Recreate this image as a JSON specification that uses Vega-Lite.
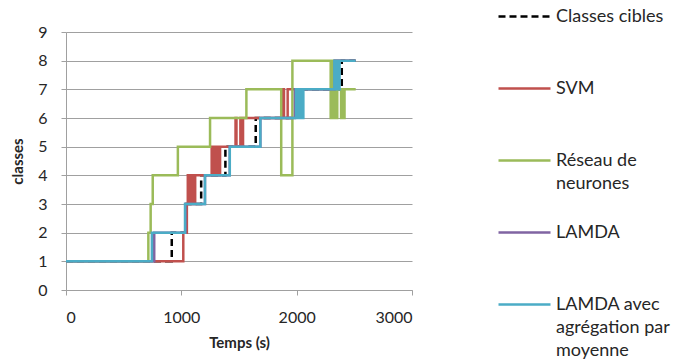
{
  "$schema": "https://vega.github.io/schema/vega-lite/v6.json",
  "width": 346,
  "height": 258,
  "autosize": {"type": "none"},
  "padding": {"left": 66, "top": 32, "right": 268, "bottom": 74},
  "background": "white",
  "config": {
    "view": {"stroke": null},
    "font": "Lato",
    "style": {"guide-label": {"lineHeight": 23}},
    "axis": {
      "labelFont": "Lato",
      "labelFontSize": 16,
      "labelColor": "#262626",
      "titleFont": "Lato",
      "titleFontSize": 15,
      "titleFontWeight": "bold",
      "titleColor": "#262626",
      "domainColor": "#a0a0a0",
      "tickColor": "#a0a0a0",
      "gridColor": "#a0a0a0",
      "tickSize": 5
    },
    "legend": {
      "orient": "none",
      "legendX": 431,
      "legendY": -43,
      "padding": 0,
      "symbolType": "stroke",
      "symbolSize": 2704,
      "symbolStrokeWidth": 2.5,
      "labelFont": "Lato",
      "labelFontSize": 18,
      "labelColor": "#262626",
      "labelOffset": 4,
      "labelLimit": 250,
      "labelBaseline": "middle",
      "rowPadding": 12
    }
  },
  "data": {
    "values": [
      {"s": "Classes cibles", "t": 0, "c": 1},
      {"s": "Classes cibles", "t": 917, "c": 2},
      {"s": "Classes cibles", "t": 1040, "c": 3},
      {"s": "Classes cibles", "t": 1172, "c": 4},
      {"s": "Classes cibles", "t": 1382, "c": 5},
      {"s": "Classes cibles", "t": 1645, "c": 6},
      {"s": "Classes cibles", "t": 1990, "c": 7},
      {"s": "Classes cibles", "t": 2391, "c": 8},
      {"s": "Classes cibles", "t": 2510, "c": 8},

      {"s": "SVM", "t": 0, "c": 1},
      {"s": "SVM", "t": 1017, "c": 2},
      {"s": "SVM", "t": 1048, "c": 3},
      {"s": "SVM", "t": 1056, "c": 4},
      {"s": "SVM", "t": 1066, "c": 3},
      {"s": "SVM", "t": 1076, "c": 4},
      {"s": "SVM", "t": 1086, "c": 3},
      {"s": "SVM", "t": 1096, "c": 4},
      {"s": "SVM", "t": 1106, "c": 3},
      {"s": "SVM", "t": 1120, "c": 4},
      {"s": "SVM", "t": 1263, "c": 5},
      {"s": "SVM", "t": 1273, "c": 4},
      {"s": "SVM", "t": 1285, "c": 5},
      {"s": "SVM", "t": 1297, "c": 4},
      {"s": "SVM", "t": 1310, "c": 5},
      {"s": "SVM", "t": 1322, "c": 4},
      {"s": "SVM", "t": 1336, "c": 5},
      {"s": "SVM", "t": 1470, "c": 6},
      {"s": "SVM", "t": 1478, "c": 5},
      {"s": "SVM", "t": 1512, "c": 6},
      {"s": "SVM", "t": 1522, "c": 5},
      {"s": "SVM", "t": 1535, "c": 6},
      {"s": "SVM", "t": 1882, "c": 7},
      {"s": "SVM", "t": 1890, "c": 6},
      {"s": "SVM", "t": 1922, "c": 7},
      {"s": "SVM", "t": 2335, "c": 8},
      {"s": "SVM", "t": 2510, "c": 8},

      {"s": "Réseau de neurones", "t": 0, "c": 1},
      {"s": "Réseau de neurones", "t": 714, "c": 2},
      {"s": "Réseau de neurones", "t": 734, "c": 3},
      {"s": "Réseau de neurones", "t": 752, "c": 4},
      {"s": "Réseau de neurones", "t": 970, "c": 5},
      {"s": "Réseau de neurones", "t": 1249, "c": 6},
      {"s": "Réseau de neurones", "t": 1564, "c": 7},
      {"s": "Réseau de neurones", "t": 1866, "c": 4},
      {"s": "Réseau de neurones", "t": 1963, "c": 8},
      {"s": "Réseau de neurones", "t": 2295, "c": 6},
      {"s": "Réseau de neurones", "t": 2305, "c": 8},
      {"s": "Réseau de neurones", "t": 2315, "c": 6},
      {"s": "Réseau de neurones", "t": 2328, "c": 7},
      {"s": "Réseau de neurones", "t": 2340, "c": 6},
      {"s": "Réseau de neurones", "t": 2352, "c": 7},
      {"s": "Réseau de neurones", "t": 2385, "c": 6},
      {"s": "Réseau de neurones", "t": 2395, "c": 7},
      {"s": "Réseau de neurones", "t": 2405, "c": 6},
      {"s": "Réseau de neurones", "t": 2415, "c": 7},
      {"s": "Réseau de neurones", "t": 2512, "c": 7},

      {"s": "LAMDA", "t": 0, "c": 1},
      {"s": "LAMDA", "t": 765, "c": 2},
      {"s": "LAMDA", "t": 1035, "c": 3},
      {"s": "LAMDA", "t": 1205, "c": 4},
      {"s": "LAMDA", "t": 1420, "c": 5},
      {"s": "LAMDA", "t": 1685, "c": 6},
      {"s": "LAMDA", "t": 1985, "c": 7},
      {"s": "LAMDA", "t": 2330, "c": 8},
      {"s": "LAMDA", "t": 2510, "c": 8},

      {"s": "LAMDA avec agrégation par moyenne", "t": 0, "c": 1},
      {"s": "LAMDA avec agrégation par moyenne", "t": 745, "c": 2},
      {"s": "LAMDA avec agrégation par moyenne", "t": 1032, "c": 3},
      {"s": "LAMDA avec agrégation par moyenne", "t": 1205, "c": 4},
      {"s": "LAMDA avec agrégation par moyenne", "t": 1420, "c": 5},
      {"s": "LAMDA avec agrégation par moyenne", "t": 1685, "c": 6},
      {"s": "LAMDA avec agrégation par moyenne", "t": 1995, "c": 7},
      {"s": "LAMDA avec agrégation par moyenne", "t": 2005, "c": 6},
      {"s": "LAMDA avec agrégation par moyenne", "t": 2018, "c": 7},
      {"s": "LAMDA avec agrégation par moyenne", "t": 2030, "c": 6},
      {"s": "LAMDA avec agrégation par moyenne", "t": 2045, "c": 7},
      {"s": "LAMDA avec agrégation par moyenne", "t": 2052, "c": 6},
      {"s": "LAMDA avec agrégation par moyenne", "t": 2058, "c": 7},
      {"s": "LAMDA avec agrégation par moyenne", "t": 2327, "c": 8},
      {"s": "LAMDA avec agrégation par moyenne", "t": 2337, "c": 7},
      {"s": "LAMDA avec agrégation par moyenne", "t": 2350, "c": 8},
      {"s": "LAMDA avec agrégation par moyenne", "t": 2360, "c": 7},
      {"s": "LAMDA avec agrégation par moyenne", "t": 2372, "c": 8},
      {"s": "LAMDA avec agrégation par moyenne", "t": 2512, "c": 8}
    ]
  },
  "encoding": {
    "x": {
      "field": "t", "type": "quantitative",
      "scale": {"domain": [0, 3000], "nice": false},
      "axis": {"values": [0, 1000, 2000, 3000], "format": "d", "grid": false, "title": "Temps (s)", "labelPadding": 14, "titlePadding": 10}
    },
    "y": {
      "field": "c", "type": "quantitative",
      "scale": {"domain": [0, 9], "nice": false},
      "axis": {"values": [0, 1, 2, 3, 4, 5, 6, 7, 8, 9], "grid": true, "title": "classes", "labelPadding": 14, "titlePadding": 12}
    },
    "color": {
      "field": "s", "type": "nominal",
      "scale": {
        "domain": ["Classes cibles", "SVM", "Réseau de neurones", "LAMDA", "LAMDA avec agrégation par moyenne"],
        "range": ["#000000", "#C0504D", "#9BBB59", "#8064A2", "#4BACC6"]
      },
      "legend": {
        "title": null,
        "labelExpr": "datum.label == 'Réseau de neurones' ? ['Réseau de', 'neurones'] : datum.label == 'LAMDA avec agrégation par moyenne' ? ['LAMDA avec', 'agrégation par', 'moyenne'] : [datum.label, '']"
      }
    },
    "strokeDash": {
      "field": "s", "type": "nominal",
      "scale": {
        "domain": ["Classes cibles", "SVM", "Réseau de neurones", "LAMDA", "LAMDA avec agrégation par moyenne"],
        "range": [[7, 4], [1, 0], [1, 0], [1, 0], [1, 0]]
      },
      "legend": {
        "title": null,
        "labelExpr": "datum.label == 'Réseau de neurones' ? ['Réseau de', 'neurones'] : datum.label == 'LAMDA avec agrégation par moyenne' ? ['LAMDA avec', 'agrégation par', 'moyenne'] : [datum.label, '']"
      }
    }
  },
  "layer": [
    {"transform": [{"filter": "datum.s === 'Classes cibles'"}], "mark": {"type": "line", "interpolate": "step-after", "strokeWidth": 2.5}},
    {"transform": [{"filter": "datum.s === 'SVM'"}], "mark": {"type": "line", "interpolate": "step-after", "strokeWidth": 2.5}},
    {"transform": [{"filter": "datum.s === 'Réseau de neurones'"}], "mark": {"type": "line", "interpolate": "step-after", "strokeWidth": 2.5}},
    {"transform": [{"filter": "datum.s === 'LAMDA'"}], "mark": {"type": "line", "interpolate": "step-after", "strokeWidth": 2.5}},
    {"transform": [{"filter": "datum.s === 'LAMDA avec agrégation par moyenne'"}], "mark": {"type": "line", "interpolate": "step-after", "strokeWidth": 2.5}}
  ]
}
